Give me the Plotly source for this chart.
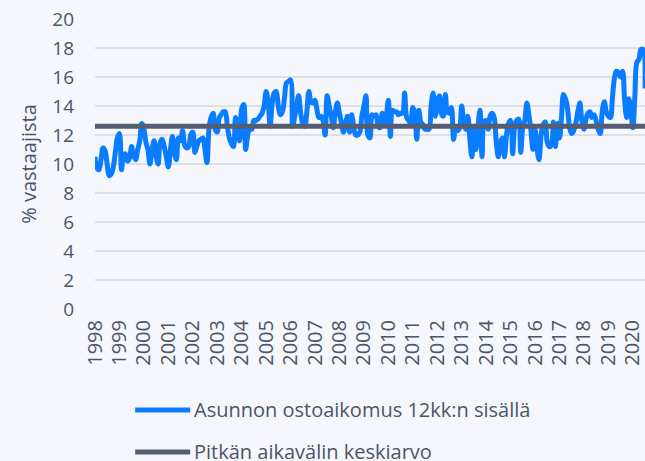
import pandas as pd
import plotly.graph_objects as go

# Monthly share of respondents planning to buy a home within 12 months (%)
y1998 = [10.5, 9.7, 9.6, 10.3, 11.1, 10.9, 10.0, 9.2, 9.3, 9.8, 10.8, 11.8]
y1999 = [12.1, 9.6, 10.5, 10.7, 10.2, 10.4, 11.2, 10.6, 10.3, 11.0, 11.6, 12.8]
y2000 = [12.4, 11.5, 11.0, 10.0, 10.9, 11.6, 10.6, 10.0, 11.5, 11.7, 11.2, 10.5]
y2001 = [9.8, 11.0, 11.9, 10.8, 10.3, 11.8, 11.6, 12.3, 11.3, 11.1, 11.2, 12.0]
y2002 = [12.2, 10.8, 11.2, 11.6, 11.7, 11.8, 11.0, 10.1, 12.5, 13.2, 13.5, 12.4]
y2003 = [12.2, 13.2, 13.4, 13.6, 13.6, 12.6, 11.8, 11.4, 11.2, 13.2, 12.4, 11.6]
y2004 = [13.8, 14.1, 11.0, 12.0, 12.5, 12.4, 13.0, 13.0, 13.1, 13.3, 13.5, 14.0]
y2005 = [15.0, 14.2, 12.6, 14.2, 14.9, 15.0, 14.0, 13.4, 13.6, 14.5, 15.6, 15.7]
y2006 = [15.8, 12.6, 13.2, 14.0, 14.7, 13.5, 12.8, 12.6, 13.6, 15.0, 14.3, 14.2]
y2007 = [14.4, 13.7, 13.2, 13.3, 13.0, 12.0, 14.7, 14.0, 13.3, 12.5, 13.6, 14.2]
y2008 = [13.5, 12.8, 12.2, 12.8, 13.3, 12.2, 13.4, 12.6, 12.0, 12.0, 12.2, 13.3]
y2009 = [14.0, 14.7, 12.0, 11.8, 13.4, 13.3, 13.4, 12.6, 12.5, 13.5, 12.8, 13.3]
y2010 = [14.4, 11.9, 13.7, 13.6, 13.6, 13.4, 13.5, 13.5, 14.9, 13.2, 13.0, 12.8]
y2011 = [13.9, 13.5, 11.7, 13.7, 12.9, 12.7, 12.4, 12.4, 12.4, 14.0, 14.9, 13.3]
y2012 = [14.3, 14.7, 13.5, 13.3, 14.8, 13.6, 13.5, 13.9, 11.7, 12.5, 12.3, 12.5]
y2013 = [14.0, 12.8, 12.4, 13.3, 11.8, 10.5, 12.6, 11.0, 12.6, 13.7, 10.5, 12.9]
y2014 = [13.0, 12.4, 13.3, 13.5, 13.2, 11.5, 10.5, 11.5, 11.8, 10.5, 12.0, 12.8]
y2015 = [13.0, 10.7, 12.5, 13.0, 13.1, 10.8, 12.5, 13.0, 14.2, 13.4, 12.3, 11.0]
y2016 = [12.4, 11.0, 10.3, 12.0, 12.7, 12.9, 11.5, 11.2, 11.3, 12.9, 11.2, 12.8]
y2017 = [11.8, 13.3, 14.8, 14.5, 13.8, 12.5, 12.1, 12.3, 12.8, 13.6, 14.2, 13.0]
y2018 = [12.4, 13.1, 13.5, 13.6, 13.2, 13.4, 13.0, 12.4, 12.1, 13.6, 14.3, 13.6]
y2019 = [13.3, 13.2, 14.5, 15.9, 16.4, 16.3, 16.0, 16.4, 14.4, 13.2, 14.5, 13.8]
y2020 = [12.5, 14.7, 17.0, 17.2, 17.9, 17.9, 15.2]

intent = (y1998 + y1999 + y2000 + y2001 + y2002 + y2003 + y2004 + y2005
          + y2006 + y2007 + y2008 + y2009 + y2010 + y2011 + y2012 + y2013
          + y2014 + y2015 + y2016 + y2017 + y2018 + y2019 + y2020)
months = pd.date_range("1998-01-01", periods=len(intent), freq="MS")

long_term_avg = 12.6

series_name = "Asunnon ostoaikomus 12kk:n sisällä"
avg_name = "Pitkän aikavälin keskiarvo"
y_title = "% vastaajista"

blue = "#0a7cff"
slate = "#545e6e"
text_col = "#4d5566"
bg = "#f5f7fc"
grid = "#dde1e7"
font_family = "'Open Sans', sans-serif"

fig = go.Figure()
fig.add_trace(go.Scatter(
    x=months, y=intent, mode="lines", name=series_name,
    line=dict(color=blue, width=5, shape="spline", smoothing=1),
    showlegend=False,
))
fig.add_trace(go.Scatter(
    x=[months[0], months[-1]], y=[long_term_avg, long_term_avg],
    mode="lines", name=avg_name,
    line=dict(color=slate, width=5),
    showlegend=False,
))

# Legend drawn below the plot: sample line + label for each series
legend_rows = [(series_name, blue, -0.348), (avg_name, slate, -0.493)]
for label, col, ypos in legend_rows:
    fig.add_shape(type="line", xref="paper", yref="paper",
                  x0=0.073, x1=0.173, y0=ypos, y1=ypos,
                  line=dict(color=col, width=5))
    fig.add_annotation(text=label, xref="paper", yref="paper",
                       x=0.176, y=ypos, xanchor="left", yanchor="middle",
                       showarrow=False,
                       font=dict(size=20, color=text_col, family=font_family))

fig.update_layout(
    width=645, height=461,
    margin=dict(l=95, r=0, t=19, b=152),
    paper_bgcolor=bg, plot_bgcolor=bg,
    font=dict(family=font_family, size=19, color=text_col),
)
fig.update_xaxes(
    type="date",
    range=[months[0], months[-1]],
    tick0="1998-01-01", dtick="M12", tickformat="%Y",
    tickangle=-90, showgrid=False, zeroline=False, showline=False,
    ticks="", ticklabelstandoff=6, ticklabeloverflow="allow",
    tickfont=dict(size=20, color=text_col),
)
fig.update_yaxes(
    range=[0, 20], dtick=2, showgrid=True, gridcolor=grid, gridwidth=1.5,
    zeroline=False, showline=False, ticks="", ticklabelstandoff=20,
    title=dict(text=y_title, standoff=10, font=dict(size=20, color=text_col)),
    tickfont=dict(size=19, color=text_col),
)

fig.write_html("out.html")
